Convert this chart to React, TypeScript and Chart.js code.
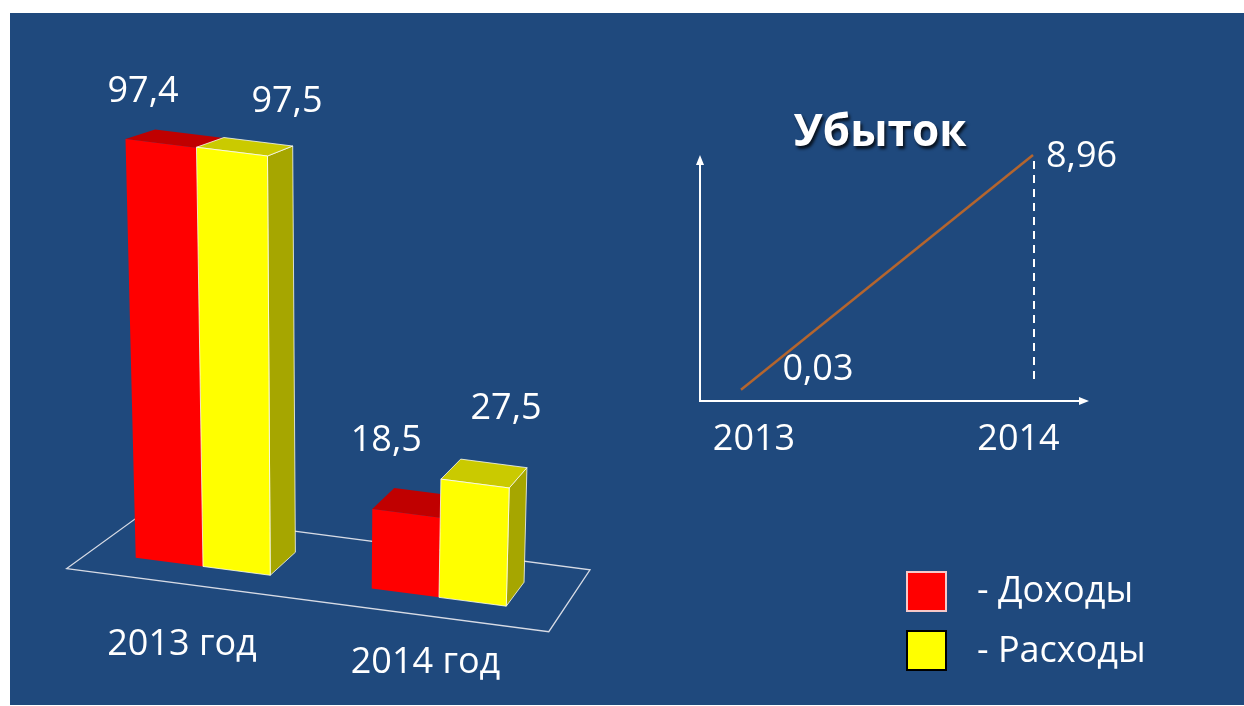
import React, { useEffect, useRef } from "react";
import { Chart, registerables } from "chart.js";

Chart.register(...registerables);

// ---------- data ----------
const CATEGORIES = ["2013 год", "2014 год"];
const SERIES_NAMES = ["Доходы", "Расходы"];
const INCOME = [97.4, 18.5];
const EXPENSES = [97.5, 27.5];
const LOSS_TITLE = "Убыток";
const LOSS_YEARS = ["2013", "2014"];
const LOSS_VALUES = [0.03, 8.96];

// ---------- styling ----------
const BG = "#1F497D";
const FONT = '36px "Open Sans", "Noto Sans", sans-serif';
const FACE = [
  { front: "#FF0000", top: "#C00000", side: "#A00000", edge: null as string | null },
  { front: "#FFFF00", top: "#CACA00", side: "#A6A600", edge: "rgba(255,255,255,0.75)" },
];
// perspective helpers
const FRONT_SLOPE = 0.131;
const VP_DOWN = { x: 320, y: 8100 };
const VP_DEPTH = { x: 1081, y: -167 };
const BAR_DEPTH = 0.031;
const FLOOR_Z = [-0.0235, 0.0558];
const FLOOR_INSET = [5, 4];
// label nudges [dataset][category]
const LABEL_DX = [[-18, -20], [55, 31]];
const LABEL_DY = [[-41, -62], [-40, -65]];
const CAT_DX = [-21, -13.5];
const CAT_DY = [88.5, 75.5];

const fmt = (v: number) => String(v).replace(".", ",");

function makeProj(chart: any) {
  const area = chart.chartArea;
  const base0 = chart.scales.y.getPixelForValue(0);
  return (fx: number, h: number, z: number) => {
    const by = base0 + FRONT_SLOPE * (fx - area.left);
    const dx = fx - VP_DOWN.x;
    const dy = by - VP_DOWN.y;
    const len = Math.hypot(dx, dy);
    const sx = fx + (h * dx) / len;
    const sy = by + (h * dy) / len;
    return [sx + z * (VP_DEPTH.x - sx), sy + z * (VP_DEPTH.y - sy)];
  };
}

const bar3d = {
  id: "bar3d",
  beforeDatasetsDraw(chart: any) {
    const { ctx, chartArea } = chart;
    const proj = makeProj(chart);
    const fl = chartArea.left + FLOOR_INSET[0];
    const fr = chartArea.right + FLOOR_INSET[1];
    const pts = [proj(fl, 0, FLOOR_Z[0]), proj(fr, 0, FLOOR_Z[0]), proj(fr, 0, FLOOR_Z[1]), proj(fl, 0, FLOOR_Z[1])];
    ctx.save();
    ctx.strokeStyle = "rgba(225,228,235,0.95)";
    ctx.lineWidth = 1.3;
    ctx.beginPath();
    pts.forEach((p, i) => (i ? ctx.lineTo(p[0], p[1]) : ctx.moveTo(p[0], p[1])));
    ctx.closePath();
    ctx.stroke();
    ctx.restore();
  },
  afterDatasetsDraw(chart: any) {
    const { ctx } = chart;
    const proj = makeProj(chart);
    const base0 = chart.scales.y.getPixelForValue(0);
    const nCat = chart.data.labels.length;
    const nDs = chart.data.datasets.length;
    const poly = (p: number[][], fill: string, edge: string | null) => {
      ctx.beginPath();
      p.forEach((q, i) => (i ? ctx.lineTo(q[0], q[1]) : ctx.moveTo(q[0], q[1])));
      ctx.closePath();
      ctx.fillStyle = fill;
      ctx.fill();
      if (edge) {
        ctx.strokeStyle = edge;
        ctx.lineWidth = 1;
        ctx.stroke();
      }
    };
    ctx.save();
    for (let j = 0; j < nCat; j++) {
      for (let i = 0; i < nDs; i++) {
        const el = chart.getDatasetMeta(i).data[j];
        const { x, y, width } = el.getProps(["x", "y", "width"], true);
        const h = base0 - y;
        const l = x - width / 2;
        const r = x + width / 2;
        const FTL = proj(l, h, 0), FTR = proj(r, h, 0), FBR = proj(r, 0, 0), FBL = proj(l, 0, 0);
        const BTL = proj(l, h, BAR_DEPTH), BTR = proj(r, h, BAR_DEPTH), BBR = proj(r, 0, BAR_DEPTH);
        const c = FACE[i];
        poly([FTR, FBR, BBR, BTR], c.side, c.edge);
        poly([FTL, FTR, BTR, BTL], c.top, c.edge);
        poly([FTL, FTR, FBR, FBL], c.front, c.edge);
      }
    }
    // value labels
    ctx.font = FONT;
    ctx.fillStyle = "#FFFFFF";
    ctx.textAlign = "center";
    ctx.textBaseline = "alphabetic";
    for (let j = 0; j < nCat; j++) {
      for (let i = 0; i < nDs; i++) {
        const el = chart.getDatasetMeta(i).data[j];
        const { x, y } = el.getProps(["x", "y"], true);
        const p = proj(x, base0 - y, 0);
        ctx.fillText(fmt(chart.data.datasets[i].data[j]), p[0] + LABEL_DX[i][j], p[1] + LABEL_DY[i][j]);
      }
      const cx = chart.scales.x.getPixelForValue(j);
      const p = proj(cx, 0, 0);
      ctx.fillText(chart.data.labels[j], p[0] + CAT_DX[j], p[1] + CAT_DY[j]);
    }
    ctx.restore();
  },
};

const lossPlugin = {
  id: "lossAxes",
  beforeDatasetsDraw(chart: any) {
    const { ctx, chartArea: a } = chart;
    const meta = chart.getDatasetMeta(0);
    const p1 = meta.data[1];
    const ox = a.left - 41;
    const oy = a.bottom;
    const xEnd = a.right + 56;
    ctx.save();
    ctx.strokeStyle = "#FFFFFF";
    ctx.fillStyle = "#FFFFFF";
    ctx.lineWidth = 2;
    ctx.beginPath();
    ctx.moveTo(ox, a.top + 6);
    ctx.lineTo(ox, oy);
    ctx.lineTo(xEnd - 6, oy);
    ctx.stroke();
    // arrow heads
    ctx.beginPath();
    ctx.moveTo(ox, a.top);
    ctx.lineTo(ox - 4, a.top + 10);
    ctx.lineTo(ox + 4, a.top + 10);
    ctx.closePath();
    ctx.fill();
    ctx.beginPath();
    ctx.moveTo(xEnd, oy);
    ctx.lineTo(xEnd - 10, oy - 4);
    ctx.lineTo(xEnd - 10, oy + 4);
    ctx.closePath();
    ctx.fill();
    // dashed drop line
    ctx.setLineDash([8, 6]);
    ctx.beginPath();
    ctx.moveTo(p1.x + 1, p1.y + 6);
    ctx.lineTo(p1.x + 1, oy - 18);
    ctx.stroke();
    ctx.restore();
  },
  afterDatasetsDraw(chart: any) {
    const { ctx } = chart;
    const meta = chart.getDatasetMeta(0);
    const p0 = meta.data[0];
    const p1 = meta.data[1];
    const vals = chart.data.datasets[0].data;
    ctx.save();
    ctx.font = FONT;
    ctx.fillStyle = "#FFFFFF";
    ctx.textBaseline = "alphabetic";
    ctx.textAlign = "center";
    ctx.fillText(fmt(vals[0]), p0.x + 77, p0.y - 10);
    ctx.textAlign = "left";
    ctx.fillText(fmt(vals[1]), p1.x + 13, p1.y + 12);
    ctx.textAlign = "center";
    const labels = chart.data.labels;
    ctx.fillText(labels[0], p0.x + 13, chart.chartArea.bottom + 49);
    ctx.fillText(labels[1], p1.x - 14.5, chart.chartArea.bottom + 49);
    ctx.restore();
  },
};

export default function App() {
  const barRef = useRef<HTMLCanvasElement>(null);
  const lineRef = useRef<HTMLCanvasElement>(null);

  useEffect(() => {
    const bar = new Chart(barRef.current as HTMLCanvasElement, {
      type: "bar",
      data: {
        labels: CATEGORIES,
        datasets: [
          { label: SERIES_NAMES[0], data: INCOME, backgroundColor: "rgba(0,0,0,0)", borderWidth: 0, categoryPercentage: 0.57, barPercentage: 1 },
          { label: SERIES_NAMES[1], data: EXPENSES, backgroundColor: "rgba(0,0,0,0)", borderWidth: 0, categoryPercentage: 0.57, barPercentage: 1 },
        ],
      },
      options: {
        responsive: false,
        animation: false,
        events: [],
        layout: { padding: { left: 85, right: 687, top: 121, bottom: 155 } },
        scales: {
          x: { display: false },
          y: { display: false, min: 0, max: 100 },
        },
        plugins: { legend: { display: false }, tooltip: { enabled: false } },
      },
      plugins: [bar3d],
    } as any);

    const line = new Chart(lineRef.current as HTMLCanvasElement, {
      type: "line",
      data: {
        labels: LOSS_YEARS,
        datasets: [
          { label: LOSS_TITLE, data: LOSS_VALUES, borderColor: "#B4652E", borderWidth: 2.5, pointRadius: 0, tension: 0, clip: false, fill: false },
        ],
      },
      options: {
        responsive: false,
        animation: false,
        events: [],
        layout: { padding: { left: 741, right: 211, top: 155, bottom: 305 } },
        scales: {
          x: { display: false, offset: false },
          y: { display: false, min: -0.4, max: 8.96 },
        },
        plugins: { legend: { display: false }, tooltip: { enabled: false } },
      },
      plugins: [lossPlugin],
    } as any);

    return () => {
      bar.destroy();
      line.destroy();
    };
  }, []);

  const abs = (o: any) => ({ position: "absolute" as const, ...o });
  const textStyle = {
    font: FONT,
    color: "#FFFFFF",
    lineHeight: "36px",
    whiteSpace: "nowrap" as const,
  };

  return (
    <div>
      <div style={abs({ left: 10, top: 13, width: 1234, height: 692, background: BG })} />
      <canvas ref={barRef} width={1244} height={706} style={abs({ left: 0, top: 0, width: 1244, height: 706 })} />
      <canvas ref={lineRef} width={1244} height={706} style={abs({ left: 0, top: 0, width: 1244, height: 706 })} />
      <div
        style={abs({
          left: 680,
          top: 107,
          width: 400,
          textAlign: "center",
          font: 'bold 44px "Open Sans", "Noto Sans", sans-serif',
          lineHeight: "44px",
          color: "#FFFFFF",
          textShadow: "2px 3px 3px rgba(0,0,0,0.75)",
        })}
      >
        {LOSS_TITLE}
      </div>
      <div style={abs({ left: 906, top: 571, width: 41, height: 41, boxSizing: "border-box", background: FACE[0].front, border: "2px solid #F6C8C8" })} />
      <div style={abs({ left: 906, top: 630, width: 41, height: 41, boxSizing: "border-box", background: FACE[1].front, border: "2px solid #000000" })} />
      <div style={abs({ left: 977, top: 571, ...textStyle })}>- {SERIES_NAMES[0]}</div>
      <div style={abs({ left: 977, top: 631, ...textStyle })}>- {SERIES_NAMES[1]}</div>
    </div>
  );
}
